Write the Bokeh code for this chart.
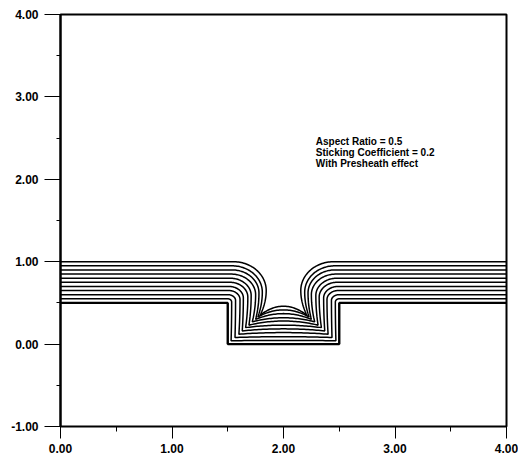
import numpy as np
from bokeh.plotting import figure
from bokeh.models import Range1d, FixedTicker, PrintfTickFormatter
from bokeh.embed import file_html
from bokeh.resources import INLINE
from bokeh.core.properties import value

# ---- axis ticks ----
x_major_ticks = [0, 1, 2, 3, 4]
x_minor_ticks = [0.5, 1.5, 2.5, 3.5]
y_major_ticks = [-1, 0, 1, 2, 3, 4]
y_minor_ticks = [-0.5, 0.5, 1.5, 2.5, 3.5]

# ---- initial trench (aspect ratio 0.5) ----
trench_x = [0.0, 1.5, 1.5, 2.5, 2.5, 4.0]
trench_y = [0.5, 0.5, 0.0, 0.0, 0.5, 0.5]

# ---- deposited film profiles (left half; right half is the mirror image) ----
top_surface   = [0.55, 0.60, 0.65, 0.70, 0.75, 0.80, 0.85, 0.90, 0.95, 1.00]
sidewall_x    = [1.535, 1.57, 1.61, 1.64, 1.68, 1.71, 1.75, 1.78, 1.81, 1.845]
corner_x      = [1.50, 1.50, 1.51, 1.51, 1.52, 1.52, 1.53, 1.54, 1.54, 1.55]
corner_y      = [0.51, 0.53, 0.54, 0.56, 0.57, 0.59, 0.60, 0.62, 0.63, 0.65]
cusp_x        = [1.53, 1.565, 1.60, 1.63, 1.66, 1.69, 1.72, 1.75, 1.77, 1.79]
cusp_y        = [0.04, 0.08, 0.12, 0.16, 0.20, 0.23, 0.27, 0.30, 0.33, 0.35]
bottom_center = [0.045, 0.09, 0.14, 0.185, 0.23, 0.28, 0.32, 0.37, 0.415, 0.46]

annotation_lines = ["Aspect Ratio = 0.5", "Sticking Coefficient = 0.2", "With Presheath effect"]
annotation_x = 2.29
annotation_y = [2.46, 2.325, 2.19]

mid = 2.0
span = 4.0


def build_profile(yt, xs, cx, cy, xc, yc, hb):
    th = np.linspace(np.pi / 2, 0, 40)
    lx = [0.0] + list(cx + (xs - cx) * np.cos(th))
    ly = [yt] + list(cy + (yt - cy) * np.sin(th))
    s = np.linspace(0, 1, 15)[1:]
    lx += list(xs - (xs - xc) * s ** 2)
    ly += list(cy - (cy - yc) * s)
    u = np.linspace(-1, 1, 41)[1:-1]
    dx = list(mid + u * (mid - xc))
    dy = list(hb - (hb - yc) * u ** 2)
    rx = [span - v for v in lx[::-1]]
    ry = ly[::-1]
    return lx + dx + rx, ly + dy + ry


prof_x, prof_y = [], []
for i in range(len(top_surface)):
    px, py = build_profile(top_surface[i], sidewall_x[i], corner_x[i], corner_y[i],
                           cusp_x[i], cusp_y[i], bottom_center[i])
    prof_x.append(px)
    prof_y.append(py)

p = figure(width=518, height=462,
           x_range=Range1d(0, 4), y_range=Range1d(-1, 4),
           output_backend="svg", toolbar_location=None,
           min_border_left=60, min_border_right=12,
           min_border_top=14, min_border_bottom=36)
p.background_fill_color = "white"
p.border_fill_color = "white"
p.outline_line_color = "black"
p.outline_line_width = 2
p.xgrid.visible = False
p.ygrid.visible = False

for ax_, major, minor in ((p.xaxis[0], x_major_ticks, x_minor_ticks),
                          (p.yaxis[0], y_major_ticks, y_minor_ticks)):
    ax_.ticker = FixedTicker(ticks=major, minor_ticks=minor)
    ax_.formatter = PrintfTickFormatter(format="%.2f")
    ax_.major_label_text_font = "Liberation Sans"
    ax_.major_label_text_font_style = "bold"
    ax_.major_label_text_font_size = "12px"
    ax_.major_label_text_color = "black"
    ax_.axis_line_color = "black"
    ax_.major_tick_line_color = "black"
    ax_.minor_tick_line_color = "black"
    ax_.major_tick_in = 0
    ax_.minor_tick_in = 0

p.yaxis.axis_line_width = 2
p.yaxis.major_tick_out = 16
p.yaxis.minor_tick_out = 4
p.yaxis.major_label_standoff = 6
p.xaxis.axis_line_width = 1
p.xaxis.major_tick_out = 12
p.xaxis.minor_tick_out = 5
p.xaxis.major_label_standoff = 5

p.multi_line(xs=prof_x, ys=prof_y, line_color="black", line_width=1.5)
p.line(trench_x, trench_y, line_color="black", line_width=2.4)

for txt, ty in zip(annotation_lines, annotation_y):
    p.text(x=[annotation_x], y=[ty], text=[txt],
           text_font=value("Liberation Sans"), text_font_style="bold",
           text_font_size="10px", text_color="black",
           text_baseline="alphabetic", text_align="left")

open("out.html", "w").write(file_html(p, INLINE))
